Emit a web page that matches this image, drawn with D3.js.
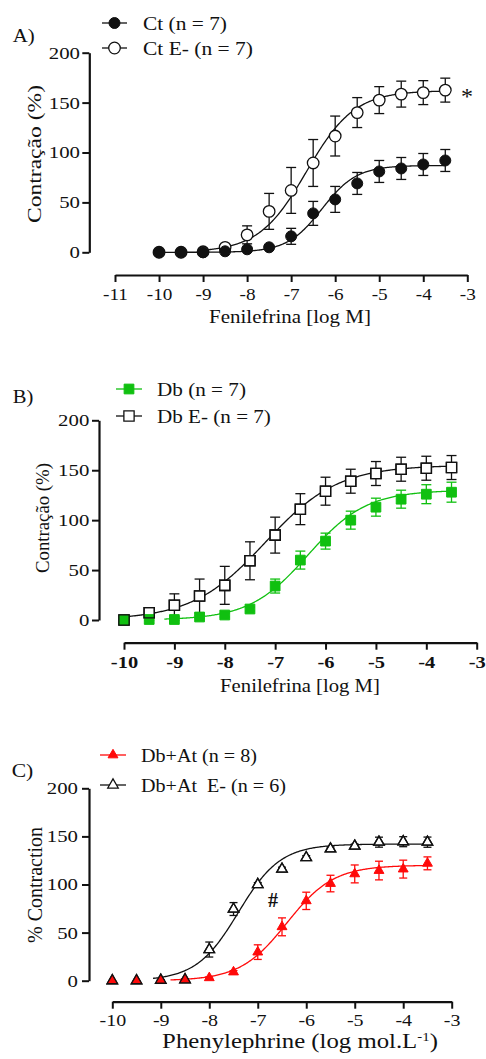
<!DOCTYPE html>
<html><head><meta charset="utf-8">
<script src="https://cdn.jsdelivr.net/npm/d3@7"></script>
<style>
body{margin:0;background:#fff}
svg{display:block}
text{font-family:"Liberation Serif","Times New Roman",serif;fill:#111}
</style>
</head><body>
<svg id="c" width="486" height="1059" font-family="Liberation Serif, Times New Roman, serif"></svg>
<script>
// ---------- data ----------
const dose = [-10,-9.5,-9,-8.5,-8,-7.5,-7,-6.5,-6,-5.5,-5,-4.5,-4,-3.5];
const xTicksA = [-11,-10,-9,-8,-7,-6,-5,-4,-3];
const xTicksBC = [-10,-9,-8,-7,-6,-5,-4,-3];
const yTicks = [0,50,100,150,200];

// Panel A
const ctMean  = [0,0,0,1,3,5,16,39,53,69,81,84,88,92];
const ctErr   = [0,0,0,0.5,2,2,8,12,13,11,11,11,11,11];
const ctEMean = [0,0,0.5,5,17.5,41,62,89.5,116.5,140,152.5,158.5,160,162.5];
const ctEErr  = [0,0,0.5,2,9,18,23,23.5,20,15,13.5,13,12,12];
// Panel B
const dbMean  = [0,0.5,0.5,3,5,11,34,60,79,100,113,121,126,128];
const dbErr   = [0,1,1,1.5,2,2,7,9,8,9,9,9,9.5,10];
const dbEMean = [0,7.3,14.7,24,34.7,59.3,85,111,129,139,146.7,151,152,152.7];
const dbEErr  = [0,4,11.5,17,19,19,18,15.5,14,12,12,12,12,12];
// Panel C
const atMean  = [0,0,0,1.4,3,9,29.7,56,83,101,111,114.5,116,122];
const atErr   = [0,0,0,0.5,1,1.5,7.6,9.3,9,8.6,9.3,9.7,9.3,6.7];
const atEMean = [0,0,0.5,1,32.4,74.5,100,116,128,137,140,144,144.5,144];
const atEErr  = [0,0,0.5,0.5,7.8,6.7,2,2,2,2,2,5.2,5.2,5.3];

// fitted sigmoid parameters: [top, logEC50, hillSlope, xFrom, xTo]
const fitCt   = [87, -6.3, 1.1, -10, -3.5];
const fitCtE  = [162, -6.65, 0.8, -9, -3.5];
const fitDb   = [130, -6.35, 0.75, -9.2, -3.5];
const fitDbE  = [155, -7.2, 0.6, -10, -3.5];
const fitAt   = [120, -6.4, 0.9, -8.8, -3.5];
const fitAtE  = [142, -7.4, 1.0, -9.16, -3.5];

const legendA = ["Ct (n = 7)", "Ct E- (n = 7)"];
const legendB = ["Db (n = 7)", "Db E- (n = 7)"];
const legendC = ["Db+At (n = 8)", "Db+At  E- (n = 6)"];

// ---------- drawing ----------
const svg = d3.select("#c");
const GREEN = "#10c010", RED = "#ff0a0a", BLACK = "#111";
const FONT = "Liberation Serif, Times New Roman, serif";

function label(parent, str, x, y, o) {
  const t = parent.append("text")
    .attr("font-family", FONT)
    .attr("font-size", o.size || 18)
    .attr("font-weight", o.weight || "normal")
    .attr("text-anchor", o.anchor || "start")
    .style("white-space", "pre")
    .text(str);
  let sx = 1;
  if (o.width) { const w = t.node().getBBox().width; sx = o.width / w; }
  t.attr("transform", `translate(${x},${y})${o.rotate ? " rotate(-90)" : ""} scale(${sx},1)`);
  return t;
}

function hill(p, xv) { return p[0] / (1 + Math.pow(10, (p[1] - xv) * p[2])); }

function panel(cfg) {
  const g = svg.append("g");
  const x = d3.scaleLinear().domain(cfg.xDomain).range(cfg.xRange);
  const y = d3.scaleLinear().domain([0, 200]).range(cfg.yRange);

  // x axis
  const gx = g.append("g").attr("transform", `translate(0,${cfg.axisY})`)
    .call(d3.axisBottom(x).tickValues(cfg.xTicks).tickSize(7).tickSizeOuter(0).tickFormat(d => String(d)));
  gx.attr("font-family", FONT);
  gx.select(".domain").attr("stroke", BLACK).attr("stroke-width", 2.2);
  gx.selectAll(".tick line").attr("stroke", BLACK).attr("stroke-width", 2);
  gx.selectAll(".tick text").attr("font-family", FONT).attr("font-size", 16)
    .attr("font-weight", cfg.xBold ? "bold" : "normal")
    .attr("fill", BLACK).attr("dy", 0).attr("y", cfg.xTickY)
    .attr("transform", `scale(${cfg.xTickSx},1)`);

  // y axis
  const gap = cfg.yGap;
  const gy = g.append("g").attr("transform", `translate(${cfg.axisX},0)`)
    .call(d3.axisLeft(y).tickValues(yTicks).tickSize(7).tickSizeOuter(0));
  gy.attr("font-family", FONT);
  gy.select(".domain").attr("stroke", BLACK).attr("stroke-width", 2.2);
  gy.selectAll(".tick line").attr("stroke", BLACK).attr("stroke-width", 2);
  gy.selectAll(".tick text").attr("font-family", FONT).attr("font-size", 16)
    .attr("fill", BLACK).attr("x", -gap / 1.3).attr("dy", "0.34em")
    .attr("transform", "scale(1.3,1)");

  // curves and error bars
  cfg.series.forEach(s => {
    const pts = d3.range(s.fit[3], s.fit[4] + 1e-9, 0.02).map(v => [v, hill(s.fit, v)]);
    g.append("path").datum(pts)
      .attr("d", d3.line().x(d => x(d[0])).y(d => y(d[1])))
      .attr("fill", "none").attr("stroke", s.color).attr("stroke-width", 1.3);
    const eb = g.append("g").attr("stroke", s.color).attr("stroke-width", 1.3);
    dose.forEach((d, i) => {
      const e = s.err[i];
      if (e <= 0) return;
      const cx = x(d), y1 = y(s.mean[i] + e), y2 = y(s.mean[i] - e);
      eb.append("line").attr("x1", cx).attr("x2", cx).attr("y1", y1).attr("y2", y2);
      eb.append("line").attr("x1", cx - cfg.cap).attr("x2", cx + cfg.cap).attr("y1", y1).attr("y2", y1);
      eb.append("line").attr("x1", cx - cfg.cap).attr("x2", cx + cfg.cap).attr("y1", y2).attr("y2", y2);
    });
  });
  // markers: open series (white) first, filled on top, then open outlines on top
  const drawMarkers = (s, fillMode) => {
    const sym = d3.symbol().type(s.shape).size(s.size);
    g.append("g").selectAll("path").data(dose.map((d, i) => [d, s.mean[i]])).join("path")
      .attr("transform", d => `translate(${x(d[0])},${y(d[1])})`)
      .attr("d", sym)
      .attr("fill", fillMode)
      .attr("stroke", s.open ? BLACK : s.color)
      .attr("stroke-width", s.open ? 1.3 : 1);
  };
  cfg.series.filter(s => s.open).forEach(s => drawMarkers(s, "#fff"));
  cfg.series.filter(s => !s.open).forEach(s => drawMarkers(s, s.color));
  if (cfg.outlineOnTop) cfg.series.filter(s => s.open).forEach(s => drawMarkers(s, "none"));

  // legend
  cfg.series.forEach((s, i) => {
    const L = cfg.legend;
    const ly = L.rows[i];
    g.append("line").attr("x1", L.x1).attr("x2", L.x2).attr("y1", ly).attr("y2", ly)
      .attr("stroke", s.color).attr("stroke-width", 1.3);
    g.append("path").attr("transform", `translate(${(L.x1 + L.x2) / 2},${ly})`)
      .attr("d", d3.symbol().type(s.shape).size(s.size))
      .attr("fill", s.open ? "#fff" : s.color)
      .attr("stroke", s.open ? BLACK : s.color).attr("stroke-width", s.open ? 1.3 : 1);
    label(g, s.name, L.tx, ly + L.dy, { size: L.size, width: L.widths[i] });
  });
  return g;
}

// Panel A
const gA = panel({
  xDomain: [-11, -3], xRange: [115, 467.3], yRange: [252.3, 52.7],
  axisY: 275, axisX: 89.3, xTicks: xTicksA, xTickSx: 1.2, xTickY: 25, yGap: 9.3, cap: 5,
  series: [
    { name: legendA[0], mean: ctMean, err: ctErr, fit: fitCt, color: BLACK, shape: d3.symbolCircle, size: 95, open: false },
    { name: legendA[1], mean: ctEMean, err: ctEErr, fit: fitCtE, color: BLACK, shape: d3.symbolCircle, size: 105, open: true }
  ],
  legend: { rows: [23, 48], x1: 102, x2: 127, tx: 143, dy: 7, size: 18, widths: [84, 110] }
});
label(gA, "A)", 12.7, 42, { size: 18, width: 22 });
label(gA, "Contração (%)", 41, 154, { size: 18, anchor: "middle", rotate: true, width: 138 });
label(gA, "Fenilefrina [log M]", 290, 323, { size: 18, anchor: "middle", width: 162 });
label(gA, "*", 467, 104, { size: 24, anchor: "middle" });

// Panel B
const gB = panel({
  xDomain: [-10, -3], xRange: [124, 476.7], yRange: [620, 420.3],
  axisY: 642.7, axisX: 99, xTicks: xTicksBC, xTickSx: 1.28, xTickY: 25, xBold: true, yGap: 9.7, cap: 5,
  outlineOnTop: true,
  series: [
    { name: legendB[0], mean: dbMean, err: dbErr, fit: fitDb, color: GREEN, shape: d3.symbolSquare, size: 95, open: false },
    { name: legendB[1], mean: dbEMean, err: dbEErr, fit: fitDbE, color: BLACK, shape: d3.symbolSquare, size: 105, open: true }
  ],
  legend: { rows: [389, 416], x1: 116, x2: 142, tx: 157, dy: 7, size: 18, widths: [89, 114] }
});
label(gB, "B)", 12.7, 403, { size: 18, width: 20.6 });
label(gB, "Contração (%)", 49, 518, { size: 18, anchor: "middle", rotate: true, width: 110 });
label(gB, "Fenilefrina [log M]", 300, 692, { size: 18, anchor: "middle", width: 160 });

// Panel C
const gC = panel({
  xDomain: [-10, -3], xRange: [112.3, 451.7], yRange: [980.7, 788.3],
  axisY: 1001.7, axisX: 89, xTicks: xTicksBC, xTickSx: 1.25, xTickY: 24, yGap: 11, cap: 4,
  outlineOnTop: true,
  series: [
    { name: legendC[0], mean: atMean, err: atErr, fit: fitAt, color: RED, shape: d3.symbolTriangle, size: 42, open: false },
    { name: legendC[1], mean: atEMean, err: atEErr, fit: fitAtE, color: BLACK, shape: d3.symbolTriangle, size: 48, open: true }
  ],
  legend: { rows: [755, 785], x1: 100, x2: 126, tx: 141, dy: 7, size: 19, widths: [116, 145] }
});
label(gC, "C)", 11.7, 777, { size: 18, width: 21.6 });
label(gC, "% Contraction", 42, 885, { size: 20, anchor: "middle", rotate: true, width: 116 });
label(gC, "#", 273, 907, { size: 20, anchor: "middle", weight: "bold" });
(function () {
  const t = gC.append("text").attr("font-family", FONT).attr("font-size", 20).attr("text-anchor", "middle");
  t.append("tspan").text("Phenylephrine (log mol.L");
  t.append("tspan").attr("font-size", 12).attr("dy", -7).text("-1");
  t.append("tspan").attr("dy", 7).text(")");
  const w = t.node().getBBox().width;
  t.attr("transform", `translate(300,1048) scale(${276 / w},1)`);
})();
</script>
</body></html>
